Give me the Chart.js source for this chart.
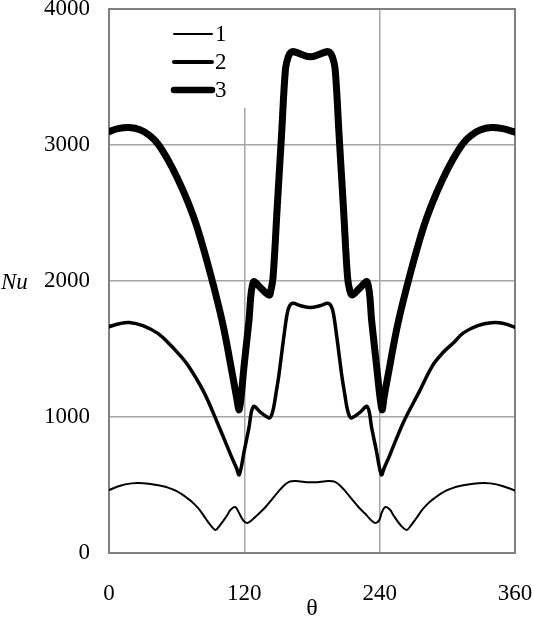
<!DOCTYPE html>
<html>
<head>
<meta charset="utf-8">
<script src="https://cdn.jsdelivr.net/npm/chart.js@4/dist/chart.umd.min.js"></script>
<style>
  html, body { margin: 0; padding: 0; background: #fff; }
  #wrap { width: 533px; height: 620px; }
</style>
</head>
<body>
<div id="wrap"><canvas id="nuChart" width="533" height="620"></canvas></div>
<script>
// series 1 (thin line)
const theta1 = [0, 10, 20, 26, 35, 45, 50, 60, 70, 75,
  80, 86, 90, 94.5, 98, 104, 108, 112, 115, 119,
  122.6, 127, 133, 139, 145, 150, 155, 160, 165, 170,
  175, 180, 185, 190, 195, 200, 205, 210, 215, 221,
  227, 232, 236, 239.5, 242, 245, 249, 253, 259, 264,
  268, 272, 278, 283, 288, 298, 308, 313, 323, 332,
  338, 348, 360];
const nu1 = [463, 495, 512, 515, 510, 497, 487, 455, 400, 365,
  320, 250, 205, 170, 200, 267, 320, 338, 300, 240,
  220, 245, 290, 340, 400, 450, 495, 525, 530, 525,
  520, 520, 520, 525, 530, 525, 495, 450, 400, 340,
  290, 245, 220, 240, 300, 338, 320, 267, 200, 170,
  205, 250, 320, 365, 400, 455, 487, 497, 510, 515,
  512, 495, 460];

// series 2 (medium line)
const theta2 = [0, 10, 18, 30, 43, 52, 61, 70, 84, 96,
  108, 113, 115.5, 120, 124, 128, 135, 142, 144, 146,
  148, 150.5, 153, 155.5, 158, 160, 163, 170, 178.5, 187,
  194, 197, 199, 201.5, 204, 206.5, 209, 211, 213, 215,
  222, 229, 233, 237, 241.5, 244, 249, 261, 275, 287,
  296, 306, 314, 327, 339, 350, 360];
const nu2 = [1664, 1688, 1695, 1672, 1617, 1550, 1472, 1380, 1185, 960,
  720, 625, 575, 755, 916, 1076, 1030, 993, 1010, 1070,
  1170, 1300, 1460, 1620, 1760, 1815, 1836, 1818, 1805, 1818,
  1836, 1815, 1760, 1620, 1460, 1300, 1170, 1070, 1010, 993,
  1030, 1076, 916, 755, 575, 625, 720, 960, 1185, 1380,
  1472, 1550, 1617, 1672, 1693, 1688, 1660];

// series 3 (thick line)
const theta3 = [0, 8, 18, 28, 36, 43, 52, 61, 70, 78.5,
  90, 101, 109.5, 113, 115.5, 120, 124, 128, 135, 142,
  143.5, 145.5, 149, 153, 156.5, 159, 161.5, 164, 170, 178.5,
  187, 193, 195.5, 198, 200.5, 204, 208, 211.5, 213.5, 215.5,
  222, 229, 233, 237, 242, 244, 247.5, 256, 267, 278.5,
  287, 296, 305, 314, 321, 329, 339, 349, 360];
const nu3 = [3098, 3120, 3128, 3110, 3070, 3012, 2895, 2750, 2580, 2385,
  2050, 1680, 1310, 1150, 1055, 1395, 1700, 1992, 1945, 1897,
  1930, 2030, 2520, 3075, 3560, 3650, 3682, 3686, 3668, 3648,
  3668, 3686, 3682, 3650, 3560, 3075, 2520, 2030, 1930, 1897,
  1945, 1992, 1700, 1395, 1055, 1150, 1310, 1680, 2050, 2385,
  2580, 2750, 2895, 3012, 3070, 3110, 3128, 3120, 3095];

const seriesLabels = ['1', '2', '3'];
const xTicks = [0, 120, 240, 360];
const yTicks = [0, 1000, 2000, 3000, 4000];

const serif = "'Liberation Serif', 'Times New Roman', serif";
const toPts = (xs, ys) => xs.map((x, i) => ({ x: x, y: ys[i] }));

// frame, legend box and axis names drawn by hand like the original
const extras = {
  id: 'extras',
  beforeDatasetsDraw(chart) {
    const { ctx, chartArea: a } = chart;
    ctx.save();
    // legend box hides the grid behind it
    ctx.fillStyle = '#fff';
    ctx.fillRect(160, a.top + 1, 92, 98);
    ctx.strokeStyle = '#808080';
    ctx.lineWidth = 2;
    ctx.strokeRect(a.left, a.top, a.right - a.left, a.bottom - a.top);
    ctx.restore();
  },
  afterDraw(chart) {
    const { ctx, chartArea: a } = chart;
    ctx.save();
    ctx.fillStyle = '#000';
    ctx.strokeStyle = '#000';
    const legWidths = [2, 4, 6.5];
    chart.data.datasets.forEach((ds, i) => {
      const y = 34 + i * 28;
      ctx.lineWidth = legWidths[i];
      ctx.lineCap = 'round';
      ctx.beginPath();
      ctx.moveTo(174, y);
      ctx.lineTo(212, y);
      ctx.stroke();
      ctx.font = '23px ' + serif;
      ctx.textAlign = 'left';
      ctx.textBaseline = 'middle';
      ctx.fillText(ds.label, 215, y + 1);
    });
    ctx.font = 'italic 23px ' + serif;
    ctx.textAlign = 'left';
    ctx.textBaseline = 'middle';
    ctx.fillText('Nu', 1, chart.scales.y.getPixelForValue(2000) + 2);
    ctx.font = '24px ' + serif;
    ctx.textAlign = 'center';
    ctx.fillText('θ', (a.left + a.right) / 2, 609);
    ctx.restore();
  }
};

new Chart(document.getElementById('nuChart').getContext('2d'), {
  type: 'line',
  data: {
    datasets: [
      { label: seriesLabels[0], data: toPts(theta1, nu1), borderWidth: 2 },
      { label: seriesLabels[1], data: toPts(theta2, nu2), borderWidth: 3.5 },
      { label: seriesLabels[2], data: toPts(theta3, nu3), borderWidth: 7 }
    ].map(d => Object.assign(d, {
      borderColor: '#000',
      backgroundColor: '#000',
      pointRadius: 0,
      fill: false,
      tension: 0.35,
      borderJoinStyle: 'round',
      borderCapStyle: 'round'
    }))
  },
  options: {
    responsive: false,
    animation: false,
    devicePixelRatio: 1,
    layout: { padding: { top: 9, right: 18, left: 0, bottom: 0 } },
    plugins: {
      legend: { display: false },
      tooltip: { enabled: false }
    },
    scales: {
      x: {
        type: 'linear',
        min: 0,
        max: 360,
        afterBuildTicks: s => { s.ticks = xTicks.map(v => ({ value: v })); },
        afterFit: s => { s.height = 67; s.paddingLeft = 0; s.paddingRight = 0; },
        ticks: { color: '#000', padding: 27, maxRotation: 0, font: { family: serif, size: 23 }, callback: v => String(v) },
        grid: { color: '#a6a6a6', lineWidth: 1.5, drawTicks: false },
        border: { display: false }
      },
      y: {
        min: 0,
        max: 4000,
        afterBuildTicks: s => { s.ticks = yTicks.map(v => ({ value: v })); },
        afterFit: s => { s.width = 109; s.paddingTop = 0; s.paddingBottom = 0; },
        ticks: { color: '#000', padding: 19, font: { family: serif, size: 23 }, callback: v => String(v) },
        grid: { color: '#a6a6a6', lineWidth: 1.5, drawTicks: false },
        border: { display: false }
      }
    }
  },
  plugins: [extras]
});
</script>
</body>
</html>
